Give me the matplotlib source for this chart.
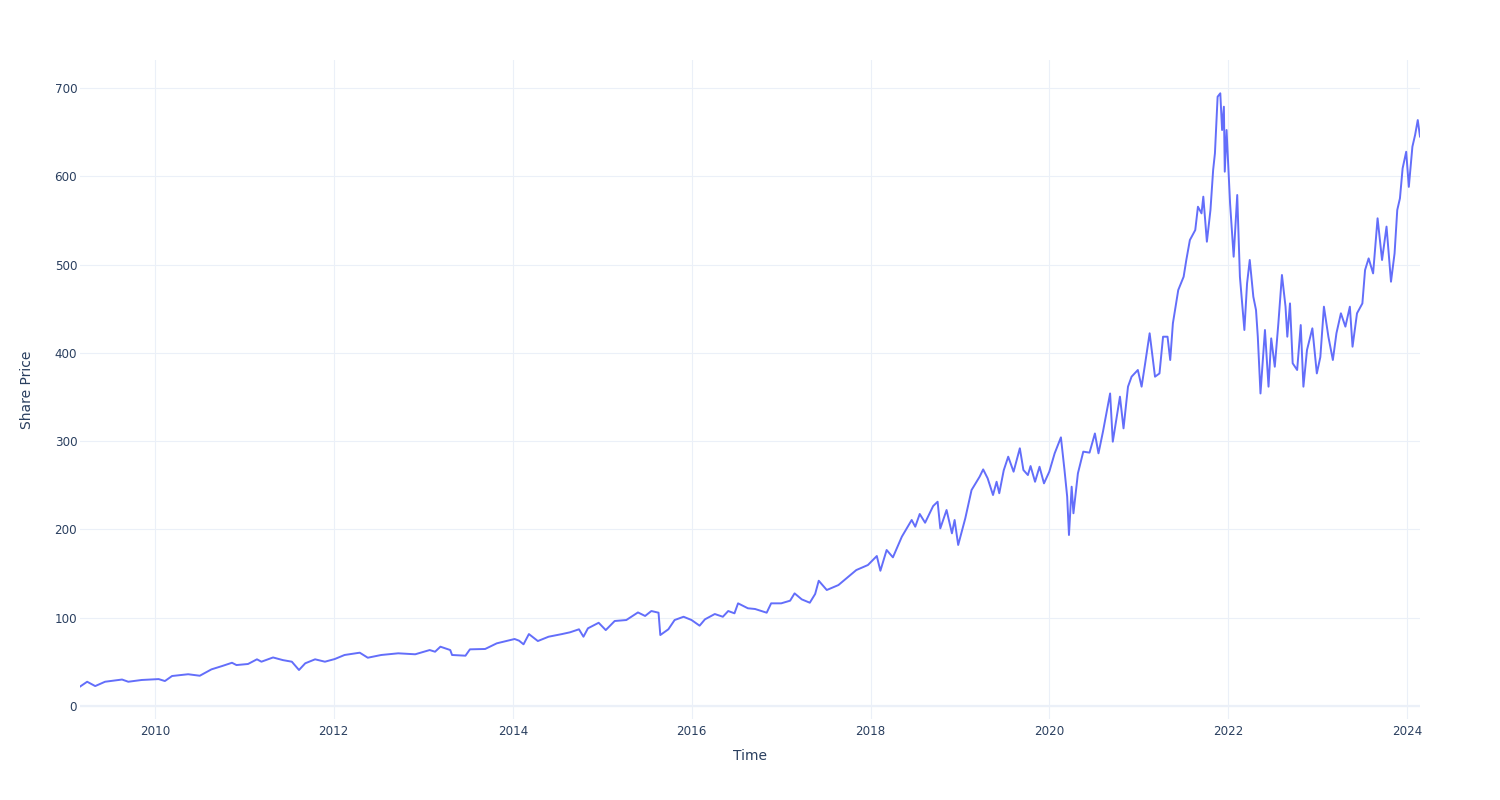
import numpy as np
import pandas as pd
import matplotlib
matplotlib.use("Agg")
import matplotlib.pyplot as plt
import matplotlib.dates as mdates

# === Data (decimal year -> share price) ===
t_years = [
    2009.16, 2009.24, 2009.33, 2009.44, 2009.63, 2009.70, 2009.85, 2010.04, 2010.11, 2010.19,
    2010.37, 2010.50, 2010.63, 2010.75, 2010.86, 2010.91, 2011.04, 2011.14, 2011.19, 2011.32,
    2011.43, 2011.53, 2011.61, 2011.68, 2011.79, 2011.90, 2012.01, 2012.12, 2012.29, 2012.38,
    2012.53, 2012.72, 2012.91, 2013.07, 2013.13, 2013.19, 2013.30, 2013.32, 2013.47, 2013.52,
    2013.69, 2013.82, 2014.02, 2014.07, 2014.12, 2014.18, 2014.28, 2014.40, 2014.55, 2014.64,
    2014.74, 2014.79, 2014.84, 2014.96, 2015.04, 2015.14, 2015.27, 2015.40, 2015.48, 2015.55,
    2015.63, 2015.65, 2015.74, 2015.81, 2015.91, 2016.00, 2016.09, 2016.15, 2016.26, 2016.35,
    2016.41, 2016.48, 2016.52, 2016.63, 2016.71, 2016.84, 2016.89, 2017.00, 2017.10, 2017.15,
    2017.23, 2017.32, 2017.38, 2017.42, 2017.51, 2017.64, 2017.73, 2017.84, 2017.97, 2018.07,
    2018.11, 2018.18, 2018.25, 2018.35, 2018.46, 2018.50, 2018.55, 2018.61, 2018.70, 2018.75,
    2018.78, 2018.85, 2018.91, 2018.94, 2018.98, 2019.06, 2019.13, 2019.22, 2019.26, 2019.31,
    2019.37, 2019.41, 2019.44, 2019.49, 2019.54, 2019.60, 2019.67, 2019.71, 2019.76, 2019.79,
    2019.84, 2019.89, 2019.94, 2020.00, 2020.06, 2020.13, 2020.17, 2020.20, 2020.22, 2020.25,
    2020.27, 2020.32, 2020.38, 2020.45, 2020.51, 2020.55, 2020.60, 2020.68, 2020.71, 2020.79,
    2020.83, 2020.88, 2020.92, 2020.99, 2021.03, 2021.07, 2021.12, 2021.18, 2021.23, 2021.27,
    2021.32, 2021.35, 2021.38, 2021.44, 2021.50, 2021.53, 2021.57, 2021.63, 2021.66, 2021.70,
    2021.72, 2021.76, 2021.80, 2021.83, 2021.85, 2021.88, 2021.91, 2021.93, 2021.95, 2021.96,
    2021.98, 2022.02, 2022.06, 2022.10, 2022.13, 2022.18, 2022.21, 2022.24, 2022.28, 2022.31,
    2022.33, 2022.36, 2022.41, 2022.45, 2022.48, 2022.52, 2022.56, 2022.60, 2022.64, 2022.66,
    2022.69, 2022.72, 2022.77, 2022.81, 2022.84, 2022.88, 2022.94, 2022.99, 2023.03, 2023.07,
    2023.12, 2023.17, 2023.21, 2023.26, 2023.31, 2023.36, 2023.39, 2023.44, 2023.50, 2023.53,
    2023.57, 2023.62, 2023.67, 2023.72, 2023.77, 2023.82, 2023.86, 2023.89, 2023.92, 2023.95,
    2023.99, 2024.02, 2024.06, 2024.09, 2024.12, 2024.145,
]
price = [
    22, 27.5, 22.6, 27.5, 30, 27.5, 29.5, 30.5, 28.3, 34,
    36, 34.3, 41.5, 45.3, 49, 46.4, 47.6, 52.9, 50.2, 55,
    52, 50.2, 40.8, 48.4, 52.9, 50.2, 53.2, 57.8, 60.4, 54.7,
    57.8, 59.7, 58.6, 63.4, 61.5, 67.2, 63.4, 57.8, 57, 64.2,
    64.6, 71, 75.9, 74, 69.9, 81.5, 73.6, 78.5, 81.5, 83.5,
    86.9, 78.5, 88, 94.3, 86, 96.3, 97.4, 106, 102, 107.6,
    105.7, 80.4, 86.9, 97.4, 101.1, 97.4, 91, 98.2, 104.2, 101.1,
    107.6, 105, 116.3, 110.7, 109.9, 105.7, 116.3, 116.3, 119.3, 127.6,
    120.8, 117, 126.9, 141.9, 131.4, 137, 144.6, 154, 159.7, 169.9,
    153.2, 176.7, 168.4, 191.8, 210.7, 203.1, 217.5, 207.6, 226.5, 231.4,
    201.2, 222, 195.6, 210.7, 182.4, 212.6, 244.6, 259.7, 268, 257.9,
    239, 254, 241, 267, 282.4, 265.4, 291.9, 267.3, 261.6, 271.8,
    254, 271, 252.2, 265.4, 286.2, 304.3, 267.3, 237.1, 193.7, 248.4,
    218.3, 263.5, 288.1, 287, 308.7, 286.2, 310.7, 354, 299.4, 350.4,
    314.5, 361.7, 373, 380.6, 361.7, 388.2, 422.2, 373, 376.7, 418.3,
    418.3, 391.9, 433.5, 471.2, 486.2, 505.2, 527.8, 539.1, 565.5, 558,
    576.9, 525.9, 561.8, 607.1, 626, 690.1, 694, 652.4, 678.8, 605.2,
    652.4, 569.3, 508.9, 578.8, 486.2, 425.9, 478.7, 505.2, 463.6, 448.5,
    418.3, 354, 425.9, 361.7, 416.4, 384.3, 433.5, 488.2, 452.3, 418.3,
    456, 388.2, 380.6, 431.5, 361.7, 403.2, 427.8, 376.7, 395.3, 452.3,
    418.3, 391.9, 422.2, 444.8, 429.7, 452.3, 407, 444.8, 456, 493.8,
    507, 490, 552.4, 505.2, 543, 480.6, 512.7, 561.8, 575, 609,
    627.8, 588, 633.5, 646.7, 663.7, 645,
]
y_ticks = [0, 100, 200, 300, 400, 500, 600, 700]
x_tick_years = [2010, 2012, 2014, 2016, 2018, 2020, 2022, 2024]


def to_date(y):
    year = int(y)
    start = pd.Timestamp(year=year, month=1, day=1)
    return start + pd.Timedelta(days=(y - year) * 365.25)


dates = [to_date(y) for y in t_years]

# === Style ===
plt.rcParams['font.family'] = ['DejaVu Sans']
text_c = '#2a3f5f'
grid_c = '#ebf0f8'
line_c = '#636efa'

fig = plt.figure(figsize=(15, 8), dpi=100)
ax = fig.add_axes([80 / 1500, 81 / 800, 1340 / 1500, 659 / 800])

ax.plot(dates, price, color=line_c, lw=1.4, zorder=3)
ax.axhline(0, color=grid_c, lw=1.6, zorder=2)

ax.set_xlim(dates[0], dates[-1])
ax.set_ylim(-14.7, 731.7)
ax.set_yticks(y_ticks)
ax.set_xticks([pd.Timestamp(year=y, month=1, day=1) for y in x_tick_years])
ax.xaxis.set_major_formatter(mdates.DateFormatter('%Y'))

ax.grid(True, color=grid_c, lw=0.8, zorder=0)
ax.set_axisbelow(True)
for s in ax.spines.values():
    s.set_visible(False)
ax.tick_params(length=0, labelsize=8.6, labelcolor=text_c)
ax.tick_params(axis='y', pad=2)
ax.tick_params(axis='x', pad=4)

fig.text(750 / 1500, 1 - 756 / 800, 'Time', ha='center', va='center',
         fontsize=10, color=text_c)
fig.text(27 / 1500, 1 - 389.5 / 800, 'Share Price', ha='center', va='center',
         rotation=90, fontsize=10, color=text_c)

fig.savefig('out.png', dpi=100, facecolor='white')
